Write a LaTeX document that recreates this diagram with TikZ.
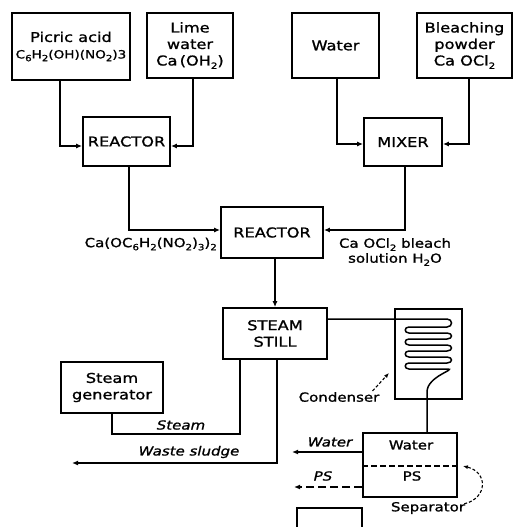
\documentclass[tikz,border=0pt]{standalone}
\usepackage{fontspec}
\setmainfont{DejaVu Sans}[FakeStretch=1.2,FakeBold=1.2]
\usetikzlibrary{arrows.meta}
\newcommand{\lsb}[1]{\raisebox{-0.45ex}{\fontsize{8.5}{8.5}\selectfont #1}}
\begin{document}
\begin{tikzpicture}[x=1pt,y=-1pt,
  box/.style={draw, line width=1.8pt, inner sep=0pt, align=center, font=\fontsize{13.5}{16.5}\selectfont},
  line/.style={line width=1.6pt},
  flow/.style={line width=1.6pt, -{Latex[length=6pt,width=5pt]}},
  dasharrow/.style={line width=1.1pt, dash pattern=on 3pt off 2pt, -{Latex[length=5pt,width=4pt]}},
  lbl/.style={inner sep=0pt, font=\fontsize{12.5}{15}\selectfont},
  ilbl/.style={inner sep=0pt, font=\fontsize{12.5}{15}\selectfont\itshape}]
\useasboundingbox (0,0) rectangle (513,527);
% top row
\node[box, minimum width=118, minimum height=67] (picric) at (71,46.5) {Picric acid\\{\fontsize{11.3}{16}\selectfont C\lsb{6}H\lsb{2}(OH)(NO\lsb{2})3}};
\node[box, minimum width=86, minimum height=65] (lime) at (190,45.5) {Lime\\water\\Ca\,(OH\lsb{2})};
\node[box, minimum width=87, minimum height=65] (water) at (335.5,45.5) {Water};
\node[box, minimum width=95, minimum height=65] (bleach) at (464.5,45.5) {Bleaching\\powder\\Ca OCl\lsb{2}};
% reactors and mixer
\node[box, minimum width=87, minimum height=49] (r1) at (126.5,141.5) {REACTOR};
\node[box, minimum width=78, minimum height=48] (mixer) at (403,142) {MIXER};
\node[box, minimum width=102, minimum height=51] (r2) at (272,232.5) {REACTOR};
\node[box, minimum width=104, minimum height=51] (still) at (275,333.5) {STEAM\\STILL};
\node[box, minimum width=102, minimum height=51] (sg) at (112,387.5) {Steam\\generator};
\node[box, minimum width=67, minimum height=90] (cond) at (428.5,354) {};
\node[box, minimum width=94, minimum height=64] (sep) at (410,465) {};
% connectors top
\draw[flow] ([xshift=-11pt]picric.south) |- ([yshift=-4.5pt]r1.west);
\draw[flow] ([xshift=3pt]lime.south) |- ([yshift=-4.5pt]r1.east);
\draw[flow] ([xshift=1.5pt]water.south) |- ([yshift=-2pt]mixer.west);
\draw[flow] ([xshift=4.5pt]bleach.south) |- ([yshift=-2pt]mixer.east);
\draw[flow] ([xshift=2.5pt]r1.south) |- ([yshift=2.5pt]r2.west);
\draw[flow] ([xshift=2pt]mixer.south) |- ([yshift=2.5pt]r2.east);
\draw[flow] ([xshift=3pt]r2.south) -- (still.north);
% labels around reactor 2
\node[lbl, anchor=east] (calbl) at (217,244) {Ca(OC\lsb{6}H\lsb{2}(NO\lsb{2})\lsb{3})\lsb{2}};
\node[lbl, align=center] (cllbl) at (395,252) {Ca OCl\lsb{2} bleach\\solution H\lsb{2}O};
% steam
\coordinate (sj) at (240,434);
\draw[line] (sg.south) |- (sj) -- ([xshift=-35pt]still.south);
\node[ilbl] (steamlbl) at (181,425) {Steam};
% waste sludge
\coordinate (wend) at (72,463);
\draw[flow] ([xshift=2pt]still.south) |- (wend);
\node[ilbl] (wastelbl) at (189,452) {Waste sludge};
% condenser coil
\draw[line, line width=1.5pt] ([yshift=14.5pt]still.east) -- (447,319)
  .. controls (453,319) and (453,327) .. (447,327) -- (409,327)
  .. controls (404,327) and (404,333) .. (409,333) -- (447,333)
  .. controls (453,333) and (453,339) .. (447,339) -- (409,339)
  .. controls (404,339) and (404,345) .. (409,345) -- (447,345)
  .. controls (453,345) and (453,351) .. (447,351) -- (409,351)
  .. controls (404,351) and (404,357) .. (409,357) -- (447,357)
  .. controls (453,357) and (453,363) .. (447,363) -- (409,363)
  .. controls (404,363) and (404,369) .. (409,369) -- (447,369)
  .. controls (458,369) and (427,376) .. (427,392)
  -- ([xshift=17pt]sep.north);
\node[lbl] (condlbl) at (339,397) {Condenser};
\coordinate (ctip) at (389,373);
\draw[dasharrow] ([xshift=-7pt,yshift=1pt]condlbl.north east) -- (ctip);
% separator
\draw[line, dash pattern=on 6pt off 3pt] ([yshift=-1pt]sep.west) -- ([yshift=-1pt]sep.east);
\node[lbl] (sepw) at (411,445) {Water};
\node[lbl] (seps) at (412,476) {PS};
\coordinate (wout) at (292,452);
\coordinate (psout) at (294,487);
\draw[flow] ([yshift=13pt]sep.west) -- (wout);
\draw[flow, dash pattern=on 8pt off 4pt] ([yshift=-22pt]sep.west) -- (psout);
\node[ilbl] (wlbl) at (330,442) {Water};
\node[ilbl] (pslbl) at (323,476) {PS};
\node[lbl] (seplbl) at (428,508) {Separator};
\draw[dasharrow] ([xshift=-1pt,yshift=-2pt]seplbl.north east) .. controls (488,498) and (488,472) .. ([xshift=5pt,yshift=-1pt]sep.east);
% partial box at bottom
\draw[line, line width=1.8pt] (297,528) -- (297,508) -- (362,508) -- (362,528);
\end{tikzpicture}
\end{document}
